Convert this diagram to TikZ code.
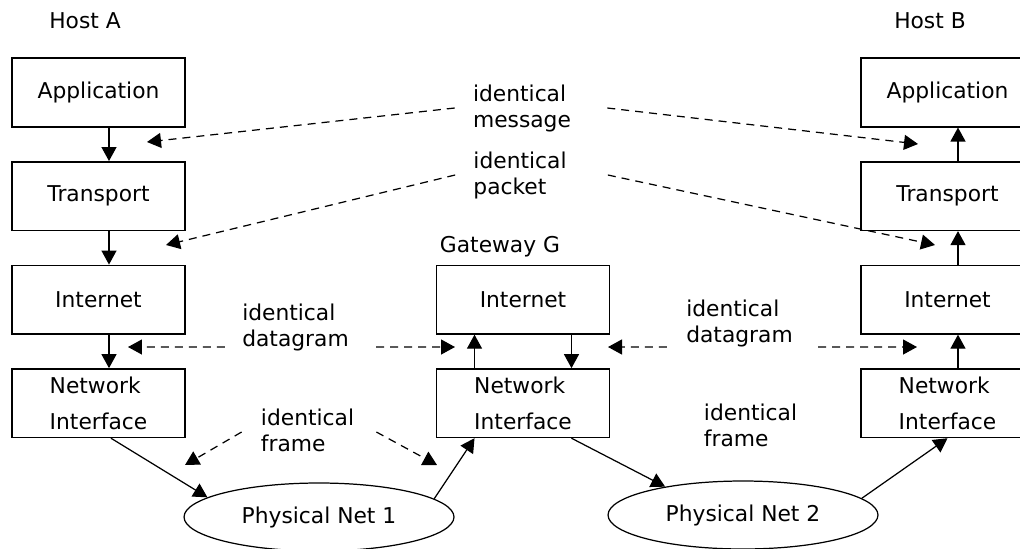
\documentclass[tikz,border=0pt]{standalone}
\usepackage{fontspec}
\setmainfont{DejaVu Sans}
\usetikzlibrary{positioning,arrows.meta,shapes.geometric}
\tikzset{
	every node/.style={font=\fontsize{12.4}{14.8}\selectfont}, % one font for all texts
	layer/.style={draw, line width=0.9pt, minimum width=3.46cm, minimum height=1.37cm, inner sep=0pt}, % a box of a protocol stack
	netif/.style={layer, align=left, font=\fontsize{12.4}{20.5}\selectfont}, % the two-line network interface box
	net/.style={draw, ellipse, line width=0.7pt, minimum width=5.4cm, minimum height=1.36cm, inner sep=0pt}, % a physical network
	lbl/.style={align=left, inner sep=0pt}, % the 'identical ...' texts
	pass/.style={-{Triangle[length=0.28cm,width=0.3cm]}, line width=0.7pt}, % solid arrows
	peer/.style={pass, dash pattern=on 0.16cm off 0.12cm}, % dashed arrows between peers
	node distance=0.67cm and 5cm, % vertical gap between layers, horizontal gap between stacks
}

\begin{document}
\begin{tikzpicture}[x=0.02cm, y=-0.02cm]
	\useasboundingbox (0,0) rectangle (1020,548);
	% host A
	\node at (85,21) (hostA) {Host A};
	\node[layer] (appA) at (98.5,92.5) {Application};
	\node[layer,below=of appA] (trA) {Transport};
	\node[layer,below=of trA] (inA) {Internet};
	\node[netif,below=of inA] (niA) {Network\\Interface};
	% gateway G
	\node[layer,right=of inA] (inG) {Internet};
	\node[netif,below=of inG] (niG) {Network\\Interface};
	\node at (500,247) (gw) {Gateway G};
	% host B
	\node[layer,right=of inG] (inB) {Internet};
	\node[layer,above=of inB] (trB) {Transport};
	\node[layer,above=of trB] (appB) {Application};
	\node[netif,below=of inB] (niB) {Network\\Interface};
	\node at (930,21) (hostB) {Host B};
	% physical networks
	\node[net] (phys1) at (319,517) {Physical Net 1};
	\node[net] (phys2) at (743,515) {Physical Net 2};
	% labels
	\node[lbl] (msg) at (522,108) {identical\\message};
	\node[lbl] (pkt) at (520,175) {identical\\packet};
	\node[lbl] (dgL) at (295.5,327) {identical\\datagram};
	\node[lbl] (dgR) at (739.5,323) {identical\\datagram};
	\node[lbl] (frL) at (307.5,430) {identical\\frame};
	\node[lbl] (frR) at (750.5,425) {identical\\frame};
	% free ends of the dashed arrows
	\coordinate (mA) at (147,142);
	\coordinate (mB) at (918,144);
	\coordinate (pA) at (166,245);
	\coordinate (pB) at (935,245);
	\coordinate (dA) at (128,347);
	\coordinate (dG1) at (455,347);
	\coordinate (dG2) at (608,347);
	\coordinate (dB) at (917,347);
	\coordinate (fA) at (185,465);
	\coordinate (fG) at (437,465);

	\draw	([xshift=0.21cm]appA.south) edge[pass] ([xshift=0.21cm]trA.north)
			([xshift=0.21cm]trA.south) edge[pass] ([xshift=0.21cm]inA.north)
			([xshift=0.21cm]inA.south) edge[pass] ([xshift=0.21cm]niA.north)
			([xshift=-0.97cm]niG.north) edge[pass] ([xshift=-0.97cm]inG.south)
			([xshift=0.97cm]inG.south) edge[pass] ([xshift=0.97cm]niG.north)
			([xshift=0.21cm]niB.north) edge[pass] ([xshift=0.21cm]inB.south)
			([xshift=0.21cm]inB.north) edge[pass] ([xshift=0.21cm]trB.south)
			([xshift=0.21cm]trB.north) edge[pass] ([xshift=0.21cm]appB.south);
	\draw[line width=0.6pt]	([xshift=0.25cm]niA.south) edge[pass] (phys1.170)
			(phys1.9) edge[pass] ([xshift=-0.97cm]niG.south)
			([xshift=0.97cm]niG.south) edge[pass] (phys2.160)
			(phys2.8) edge[pass] (niB.south);
	\draw	([xshift=-0.36cm]msg.west) edge[peer] (mA)
			([xshift=0.72cm]msg.east) edge[peer] (mB)
			([xshift=-0.36cm]pkt.west) edge[peer] (pA)
			([xshift=0.82cm]pkt.east) edge[peer] (pB)
			([xshift=-0.34cm,yshift=-0.4cm]dgL.west) edge[peer] (dA)
			([xshift=0.54cm,yshift=-0.4cm]dgL.east) edge[peer] (dG1)
			([xshift=-0.38cm,yshift=-0.48cm]dgR.west) edge[peer] (dG2)
			([xshift=0.5cm,yshift=-0.48cm]dgR.east) edge[peer] (dB)
			([xshift=-0.38cm,yshift=-0.04cm]frL.west) edge[peer] (fA)
			([xshift=0.44cm,yshift=-0.04cm]frL.east) edge[peer] (fG);
\end{tikzpicture}
\end{document}
